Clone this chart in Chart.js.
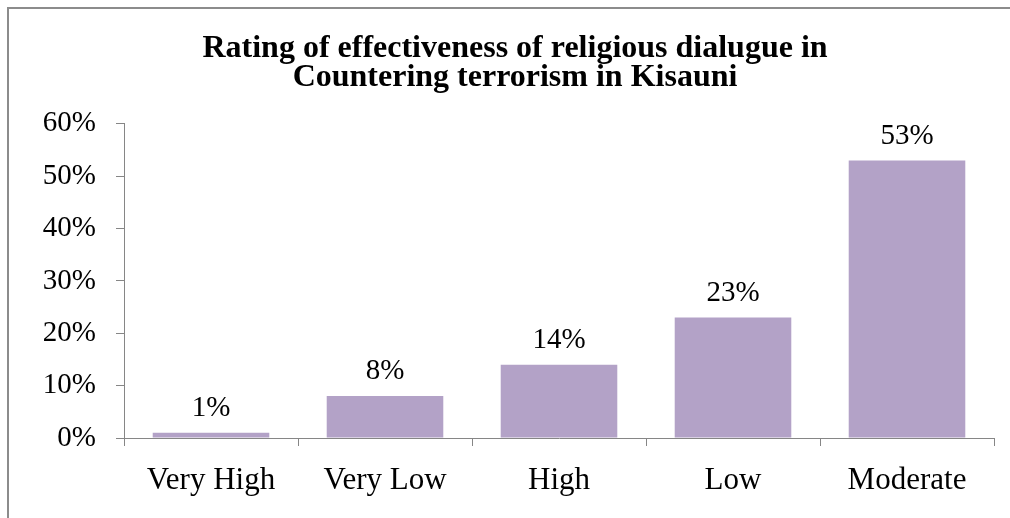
<!DOCTYPE html>
<html>
<head>
<meta charset="utf-8">
<script src="https://cdn.jsdelivr.net/npm/chart.js@4"></script>
<style>
  html, body { margin: 0; padding: 0; background: #fff; overflow: hidden; }
  canvas { display: block; }
</style>
</head>
<body>
<canvas id="chart" width="1010" height="518"></canvas>
<script>
const TITLE_LINES = ['Rating of effectiveness of religious dialugue in', 'Countering terrorism in Kisauni'];
const categories = ['Very High', 'Very Low', 'High', 'Low', 'Moderate'];
const ratingValues = [1, 8, 14, 23, 53];
const yTicks = [0, 10, 20, 30, 40, 50, 60];

const SERIF = '"Liberation Serif", "Times New Roman", serif';
const AXIS_GREY = '#868686';

// chart frame: only its top and left edges fall inside the picture
const frame = {
  id: 'frame',
  beforeDraw(chart) {
    const { ctx, width, height } = chart;
    ctx.save();
    ctx.fillStyle = '#fff';
    ctx.fillRect(0, 0, width, height);
    ctx.strokeStyle = '#8c8c8c';
    ctx.lineWidth = 2;
    ctx.beginPath();
    ctx.moveTo(8, height);
    ctx.lineTo(8, 8);
    ctx.lineTo(width, 8);
    ctx.stroke();
    ctx.restore();
  },
};

// value labels above each bar
const barLabels = {
  id: 'barLabels',
  afterDatasetsDraw(chart) {
    const { ctx } = chart;
    const meta = chart.getDatasetMeta(0);
    ctx.save();
    ctx.font = `29px ${SERIF}`;
    ctx.fillStyle = '#000';
    ctx.textAlign = 'center';
    ctx.textBaseline = 'alphabetic';
    meta.data.forEach((bar, i) => {
      ctx.fillText(`${ratingValues[i]}%`, bar.x, bar.y - 17);
    });
    ctx.restore();
  },
};

new Chart(document.getElementById('chart'), {
  type: 'bar',
  data: {
    labels: categories,
    datasets: [{
      data: ratingValues,
      backgroundColor: '#B3A2C7',
      borderWidth: 0,
      barPercentage: 0.67,
      categoryPercentage: 1,
    }],
  },
  options: {
    responsive: false,
    animation: false,
    layout: { padding: { left: 36, right: 16, top: 0, bottom: 0 } },
    plugins: {
      legend: { display: false },
      tooltip: { enabled: false },
      title: {
        display: true,
        text: TITLE_LINES,
        color: '#000',
        font: { family: SERIF, size: 32, weight: 'bold', lineHeight: 0.92 },
        padding: { top: 34, bottom: 31 },
      },
    },
    scales: {
      x: {
        offset: true,
        grid: { display: true, drawOnChartArea: false, drawTicks: true, tickLength: 8, color: AXIS_GREY, offset: true },
        border: { display: true, color: AXIS_GREY, width: 1 },
        ticks: { color: '#000', font: { family: SERIF, size: 31 }, padding: 16, maxRotation: 0 },
        afterFit(scale) { scale.height = 80; },
      },
      y: {
        min: 0,
        max: 60,
        afterBuildTicks(scale) { scale.ticks = yTicks.map(v => ({ value: v })); },
        grid: { display: true, drawOnChartArea: false, drawTicks: true, tickLength: 8, color: AXIS_GREY },
        border: { display: true, color: AXIS_GREY, width: 1 },
        ticks: { color: '#000', font: { family: SERIF, size: 29 }, padding: 20, callback: v => `${v}%` },
        afterFit(scale) { scale.width = 88; },
      },
    },
  },
  plugins: [frame, barLabels],
});
</script>
</body>
</html>
